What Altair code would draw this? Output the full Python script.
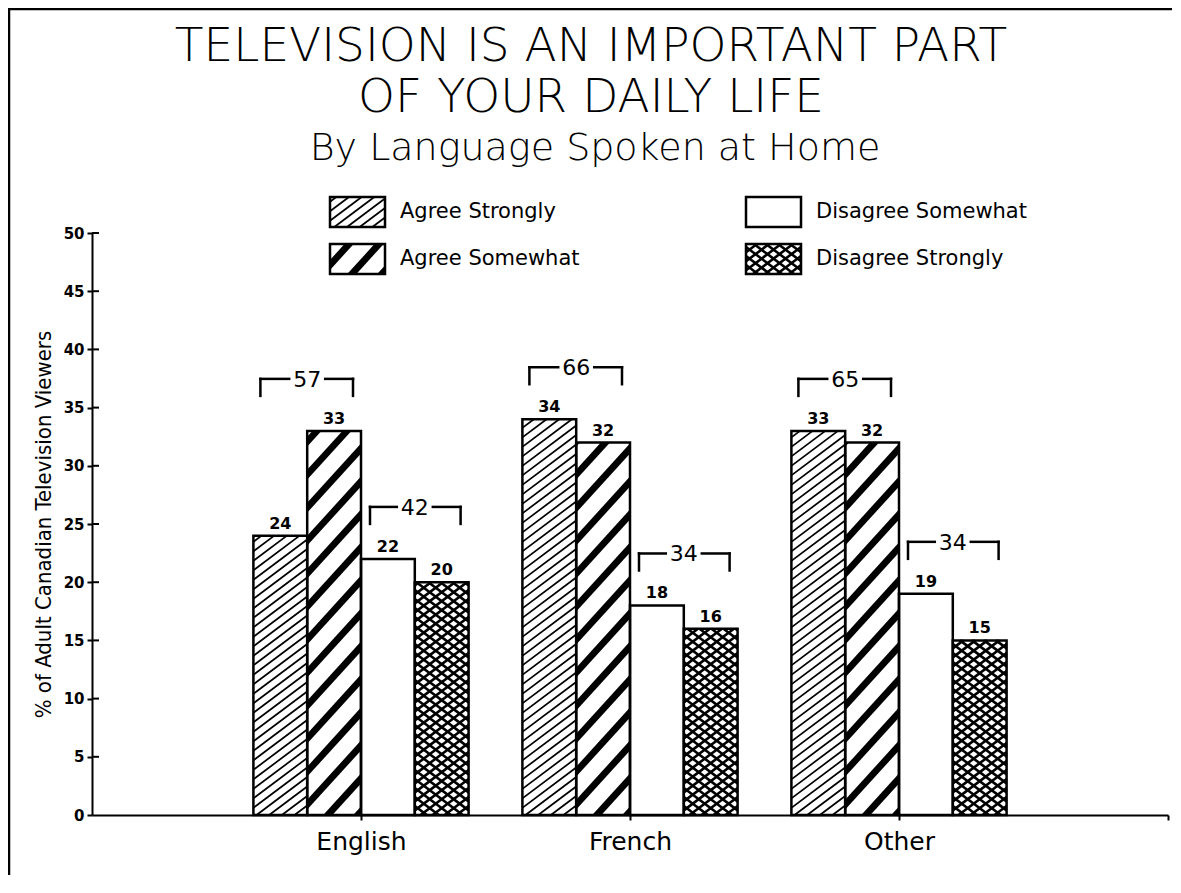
import json
import altair as alt
import pandas as pd

# ---------------- data ----------------
languages = ["English", "French", "Other"]
series = ["Agree Strongly", "Agree Somewhat", "Disagree Somewhat", "Disagree Strongly"]
agree_strongly = [24, 34, 33]
agree_somewhat = [33, 32, 32]
disagree_somewhat = [22, 18, 19]
disagree_strongly = [20, 16, 15]
agree_totals = [57, 66, 65]
disagree_totals = [42, 34, 34]
y_ticks = [0, 5, 10, 15, 20, 25, 30, 35, 40, 45, 50]

title_lines = ["TELEVISION IS AN IMPORTANT PART", "OF YOUR DAILY LIFE"]
subtitle = "By Language Spoken at Home"
y_title = "% of Adult Canadian Television Viewers"

# ---------------- layout / style ----------------
W, H = 1076, 582
XMIN, XMAX = -1, 3
YMAX = 50
KX = W / (XMAX - XMIN)     # px per x unit
KY = H / YMAX              # px per y unit
BAR = 0.2                  # bar width in group units
FONT = "DejaVu Sans"
NARROW = "Liberation Sans Narrow, DejaVu Sans Condensed, Liberation Sans"

values_by_series = [agree_strongly, agree_somewhat, disagree_somewhat, disagree_strongly]
bars_df = pd.DataFrame([
    {"lang": languages[g], "gi": g, "series": s, "si": k, "value": vals[g]}
    for k, (s, vals) in enumerate(zip(series, values_by_series))
    for g in range(len(languages))
])
brackets_df = pd.DataFrame(
    [{"gi": g, "side": -1, "total": agree_totals[g],
      "pmax": max(agree_strongly[g], agree_somewhat[g])} for g in range(len(languages))]
    + [{"gi": g, "side": 1, "total": disagree_totals[g],
        "pmax": max(disagree_somewhat[g], disagree_strongly[g])} for g in range(len(languages))]
)
legend_df = pd.DataFrame({"series": series, "col": [0, 0, 1, 1], "row": [0, 1, 0, 1]})
ticks_df = pd.DataFrame({"t": y_ticks[1:]})
one_df = pd.DataFrame({"k": [0]})

PATTERNS = {
    "Agree Strongly": [dict(m=0.75, period=9.5, nsub=1, gap=0, sw=1.7)],
    "Agree Somewhat": [dict(m=1.1, period=33, nsub=5, gap=1.75, sw=2.0)],
    "Disagree Somewhat": [],
    "Disagree Strongly": [dict(m=0.75, period=9, nsub=1, gap=0, sw=2.6),
                          dict(m=-0.75, period=9, nsub=1, gap=0, sw=2.6)],
}

label_expr = json.dumps(languages) + "[datum.value] || ''"
AX_X = alt.Axis(values=[0, 1, 2, 3], labelExpr=label_expr, title="", grid=False,
                domainColor="black", domainWidth=2, tickColor="black", tickWidth=2,
                tickSize=5, labelFont=FONT, labelFontSize=25, labelColor="black",
                labelPadding=9)
AX_Y = alt.Axis(values=y_ticks, title=y_title, grid=False, domainColor="black",
                domainWidth=2, tickColor="black", tickWidth=2, tickSize=5,
                labelFont=FONT, labelFontSize=15, labelFontWeight="bold",
                labelColor="black", labelPadding=3, titleFont=NARROW,
                titleFontSize=22, titleFontWeight="normal", titleColor="black",
                titlePadding=8)


def X(f):
    return alt.X(f"{f}:Q", scale=alt.Scale(domain=[XMIN, XMAX], nice=False, zero=False), axis=AX_X)


def Y(f):
    return alt.Y(f"{f}:Q", scale=alt.Scale(domain=[0, YMAX], nice=False), axis=AX_Y)


def calcs(ch, items):
    for name, expr in items:
        ch = ch.transform_calculate(**{name: expr})
    return ch


BAR_RECT = [
    ("x0", f"datum.gi + (datum.si - 2) * {BAR}"),
    ("x1", f"datum.x0 + {BAR}"),
    ("y0", "0"),
    ("y1", "datum.value"),
]
LEG_RECT = [
    ("x0", f"{XMIN} + (datum.col == 0 ? 238 : 654) / {KX}"),
    ("x1", f"datum.x0 + 55 / {KX}"),
    ("y1", f"({H} - (datum.row == 0 ? -36 : 11)) / {KY}"),
    ("y0", f"datum.y1 - 30 / {KY}"),
]


def hatch_layer(src, rect, sname, p):
    m, per, nsub, gap = p["m"], p["period"], p["nsub"], p["gap"]
    ch = calcs(alt.Chart(src), rect).transform_filter(alt.datum.series == sname)
    ch = calcs(ch, [
        ("bw", f"(datum.x1 - datum.x0) * {KX}"),
        ("hh", f"(datum.y1 - datum.y0) * {KY}"),
        ("n", f"ceil((datum.hh + {abs(m)} * datum.bw) / {per}) + 1"),
        ("ks", f"sequence(0, datum.n * {nsub})"),
    ]).transform_flatten(["ks"], as_=["k"])
    ch = calcs(ch, [
        ("c", f"min(0, {-m} * datum.bw) + floor(datum.k / {nsub}) * {per} + (datum.k % {nsub}) * {gap}"),
        ("xa", f"max(0, min(-datum.c / ({m}), (datum.hh - datum.c) / ({m})))"),
        ("xb", f"min(datum.bw, max(-datum.c / ({m}), (datum.hh - datum.c) / ({m})))"),
    ]).transform_filter("datum.xb - datum.xa > 0.3")
    ch = calcs(ch, [
        ("hx1", f"datum.x0 + datum.xa / {KX}"),
        ("hy1", f"datum.y0 + (({m}) * datum.xa + datum.c) / {KY}"),
        ("hx2", f"datum.x0 + datum.xb / {KX}"),
        ("hy2", f"datum.y0 + (({m}) * datum.xb + datum.c) / {KY}"),
    ])
    return ch.mark_rule(color="black", strokeWidth=p["sw"], strokeCap="butt").encode(
        x=X("hx1"), y=Y("hy1"), x2="hx2:Q", y2="hy2:Q")


def rect_layers(src, rect):
    fill = calcs(alt.Chart(src), rect).mark_rect(fill="white", strokeWidth=0).encode(
        x=X("x0"), x2="x1:Q", y=Y("y0"), y2="y1:Q")
    hatches = [hatch_layer(src, rect, s, p) for s in series for p in PATTERNS[s]]
    outline = calcs(alt.Chart(src), rect).mark_rect(
        fillOpacity=0, stroke="black", strokeWidth=2.5).encode(
        x=X("x0"), x2="x1:Q", y=Y("y0"), y2="y1:Q")
    return [fill] + hatches + [outline]


# frame
frame_top = alt.Chart(one_df).mark_rule(color="black", strokeWidth=2.5).encode(
    x=alt.value(-84), x2=alt.value(W + 4), y=alt.value(-224))
frame_left = alt.Chart(one_df).mark_rule(color="black", strokeWidth=2.5).encode(
    x=alt.value(-83), y=alt.value(-225), y2=alt.value(H + 60))

# titles (two-line main title as one text mark, subtitle below)
t12 = alt.Chart(one_df).mark_text(font=FONT, fontSize=47, fontWeight=200, align="center",
                                  baseline="alphabetic", lineHeight=51, color="black").encode(
    x=alt.value(499), y=alt.value(-172), text=alt.value(title_lines))
t3 = alt.Chart(one_df).mark_text(font=FONT, fontSize=38, fontWeight=200, align="center",
                                 baseline="alphabetic", color="black").encode(
    x=alt.value(503), y=alt.value(-73), text=alt.value(subtitle))

# bar value labels
bar_labels = calcs(alt.Chart(bars_df), [("xc", f"datum.gi + (datum.si - 2) * {BAR} + {BAR / 2}")]).mark_text(
    font=FONT, fontSize=16, fontWeight="bold", baseline="bottom", dy=-4, color="black").encode(
    x=X("xc"), y=Y("value"), text="value:Q")

# brackets
BR = [
    ("top", f"datum.pmax + 52 / {KY}"),
    ("bot", f"datum.top - 17 / {KY}"),
    ("xl", f"datum.gi + (datum.side < 0 ? -0.4 + 7 / {KX} : 9 / {KX})"),
    ("xr", f"datum.gi + (datum.side < 0 ? -8 / {KX} : 0.4 - 8 / {KX})"),
    ("xc", f"datum.gi + datum.side * {BAR}"),
    ("gl", f"datum.xc - 18 / {KX}"),
    ("gr", f"datum.xc + 18 / {KX}"),
]
br_rules = calcs(alt.Chart(brackets_df), BR + [("segs", "[0, 1, 2, 3]")]).transform_flatten(
    ["segs"], as_=["seg"])
br_rules = calcs(br_rules, [
    ("sx1", "datum.seg == 0 ? datum.xl : datum.seg == 1 ? datum.gr : datum.seg == 2 ? datum.xl : datum.xr"),
    ("sx2", "datum.seg == 0 ? datum.gl : datum.seg == 1 ? datum.xr : datum.seg == 2 ? datum.xl : datum.xr"),
    ("sy1", "datum.seg <= 1 ? datum.top : datum.bot"),
    ("sy2", "datum.top"),
]).mark_rule(color="black", strokeWidth=2.5, strokeCap="square").encode(
    x=X("sx1"), x2="sx2:Q", y=Y("sy1"), y2="sy2:Q")
br_text = calcs(alt.Chart(brackets_df), BR).mark_text(
    font=FONT, fontSize=22, baseline="middle", dy=1, color="black").encode(
    x=X("xc"), y=Y("top"), text="total:Q")

# legend labels
leg_labels = calcs(alt.Chart(legend_df), LEG_RECT + [
    ("lx", f"datum.x1 + 15 / {KX}"), ("ly", "(datum.y0 + datum.y1) / 2")]).mark_text(
    font=FONT, fontSize=21, align="left", baseline="middle", color="black").encode(
    x=X("lx"), y=Y("ly"), text="series:N")

# inner half of y ticks
inner_ticks = alt.Chart(ticks_df).mark_rule(color="black", strokeWidth=2).encode(
    y=Y("t"), x=alt.value(0), x2=alt.value(7))

layers = ([frame_top, frame_left, t12, t3]
          + rect_layers(bars_df, BAR_RECT)
          + [bar_labels, br_rules, br_text]
          + rect_layers(legend_df, LEG_RECT)
          + [leg_labels, inner_ticks])

chart = alt.layer(*layers).properties(
    width=W, height=H,
    autosize=alt.AutoSizeParams(type="none"),
    padding={"left": 84, "top": 225, "right": 4, "bottom": 60},
    background="white",
).configure_view(strokeWidth=0)

chart.save("out.html", embed_options={"renderer": "svg", "actions": False})
